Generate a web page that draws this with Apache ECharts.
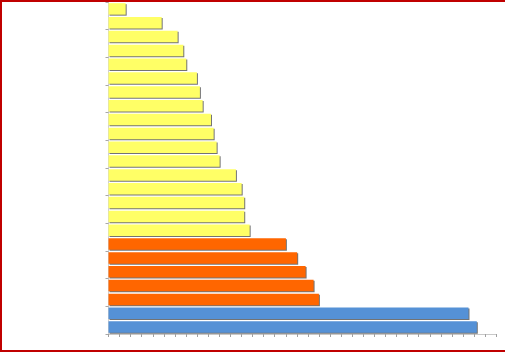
<!DOCTYPE html>
<html>
<head>
<meta charset="utf-8">
<script src="https://cdn.jsdelivr.net/npm/echarts@6/dist/echarts.min.js"></script>
<style>
  html, body { margin: 0; padding: 0; background: #fff; }
  #wrap { position: relative; width: 505px; height: 352px; }
  #chart { position: absolute; left: 0; top: 0; width: 505px; height: 352px; }
  #frame { position: absolute; left: 0; top: 0; width: 505px; height: 352px; box-sizing: border-box;
           border-left: 2px solid #c00000; border-top: 2px solid #c00000; border-bottom: 2px solid #c00000;
           pointer-events: none; }
</style>
</head>
<body>
<div id="wrap">
  <div id="chart"></div>
  <div id="frame"></div>
</div>
<script>
// 类别（图中没有标签）
const categories = ['1', '2', '3', '4', '5', '6', '7', '8', '9', '10', '11', '12',
  '13', '14', '15', '16', '17', '18', '19', '20', '21', '22', '23', '24'];
// 黄色组
const yellowValues = [1.55, 4.80, 6.24, 6.75, 7.02, 7.98, 8.25, 8.50, 9.25, 9.49, 9.76, 10.03,
  11.50, 12.02, 12.25, 12.25, 12.74];
// 橙色组
const orangeValues = [16.01, 17.03, 17.79, 18.51, 18.99];
// 蓝色组
const blueValues = [32.49, 33.24];

const groups = [
  { values: yellowValues, color: '#FFFF66' },
  { values: orangeValues, color: '#FF6600' },
  { values: blueValues, color: '#5591D6' }
];

let barData = [];
groups.forEach(g => {
  g.values.forEach(v => {
    barData.push({ value: v, itemStyle: { color: g.color } });
  });
});

var myChart = echarts.init(document.getElementById('chart'));
let option = {
  animation: false,
  grid: { left: 108.5, right: 8.7, top: 2, bottom: 18, containLabel: false },
  xAxis: {
    type: 'value',
    min: 0,
    max: 35,
    interval: 1,
    axisLine: { show: true, lineStyle: { color: '#c8c8c8', width: 1 } },
    axisTick: { show: true, length: 3, lineStyle: { color: '#a0a0a0' } },
    axisLabel: { show: false },
    splitLine: { show: false }
  },
  yAxis: {
    type: 'category',
    inverse: true,
    data: categories,
    axisLine: { show: true, lineStyle: { color: '#d0d0d0', width: 1 } },
    axisTick: { show: true, length: 3, lineStyle: { color: '#a8a8a8' } },
    axisLabel: { show: false }
  },
  series: [{
    type: 'bar',
    data: barData,
    barCategoryGap: '17%',
    itemStyle: {
      shadowColor: 'rgba(0,0,0,0.55)',
      shadowOffsetX: 1,
      shadowOffsetY: 1,
      shadowBlur: 0
    }
  }]
};
myChart.setOption(option);
</script>
</body>
</html>
